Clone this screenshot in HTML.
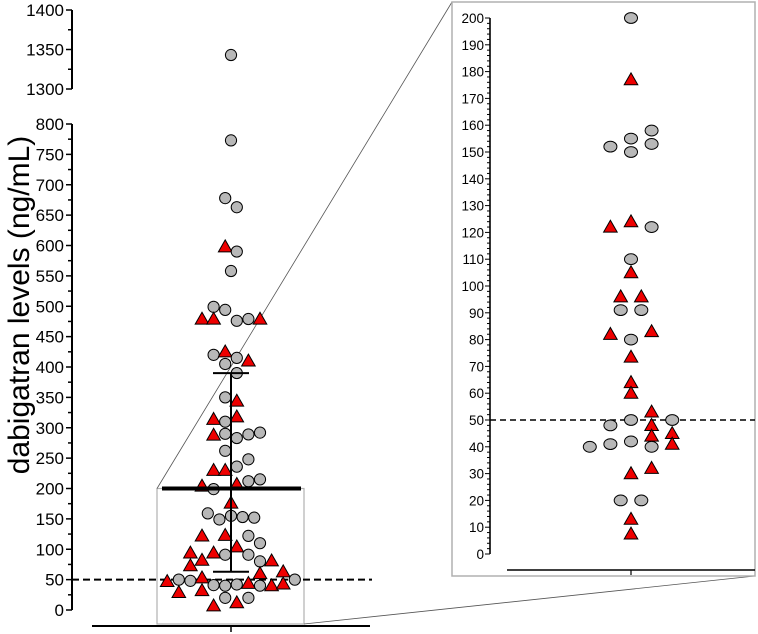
<!DOCTYPE html>
<html><head><meta charset="utf-8"><style>
html,body{margin:0;padding:0;background:#fff}
svg{display:block;font-family:"Liberation Sans",Arial,sans-serif}
</style></head><body>
<svg id="chart" width="758" height="634" viewBox="0 0 758 634">
<g id="guides"></g>
<g id="left"></g>
<g id="right"></g>
<text x="0" y="0" transform="translate(29,305) rotate(-90)" text-anchor="middle" font-size="30" fill="#000">dabigatran levels (ng/mL)</text>
</svg>
<script>
// Main panel data
const mainValues = [1343,773,678,663,598,590,558,
 499,494,479,479,476,479,479,
 420,425,415,410,405,390,350,344,314,318,310,
 288,290,283,289,292,262,248,236,230,230,212,215,204,199,207,176,
 159,149,155,153,152,122,123,122,110,104,94,94,91,91,82,80,81,73,60,63,
 47,50,48,53,50,41,40,42,44,40,40,43,29,32,20,20,7,12];
const mainShapes = ("c c c c t c c " +
 "c c t t c c t " +
 "c t c t c c c t t t c " +
 "t c c c c c c c t t c c t c t t " +
 "c c c c c t t c c t t t c c t c t t t t " +
 "t c c t c c c c t c t t t t c c t t").trim().split(" ");
const mainSlots = [0,0,-0.5,0.5,-0.5,0.5,0,
 -1.5,-0.5,-2.5,-1.5,0.5,1.5,2.5,
 -1.5,-0.5,0.5,1.5,-0.5,0.5,-0.5,0.5,-1.5,0.5,-0.5,
 -1.5,-0.5,0.5,1.5,2.5,-0.5,1.5,0.5,-1.5,-0.5,1.5,2.5,-2.5,-1.5,0.5,0,
 -2,-1,0,1,2,-2.5,-0.5,1.5,2.5,0.5,-3.5,-1.5,-0.5,1.5,-2.5,2.5,3.5,-3.5,2.5,4.5,
 -5.5,-4.5,-3.5,-2.5,5.5,-1.5,-0.5,0.5,1.5,2.5,3.5,4.5,-4.5,-2.5,-0.5,1.5,-1.5,0.5];
const mainStats = [200, 63, 390]; // central line, lower, upper whisker
const lowerTicks = [0,50,100,150,200,250,300,350,400,450,500,550,600,650,700,750,800];
const upperTicks = [1300,1350,1400];
// Zoom panel data
const zoomValues = [200,177,158,155,153,152,150,122,124,122,110,105,96,96,91,91,82,83,80,73.5,64,60,
 53,50,50,48,48,45,44,41,42,40,40,41,32,30,20,20,13,7.5];
const zoomShapes = ("c t c c c c c t t c c t t t c c t t c t t t " +
 "t c c c t t t c c c c t t t c c t t").trim().split(" ");
const zoomSlots = [0,0,2,0,2,-2,0,-2,0,2,0,0,-1,1,-1,1,-2,2,0,0,0,0,
 2,0,4,-2,2,4,2,-2,0,-4,2,4,2,0,-1,1,0,0];
const zoomTicks = [0,10,20,30,40,50,60,70,80,90,100,110,120,130,140,150,160,170,180,190,200];
const threshold = 50;

const NS="http://www.w3.org/2000/svg";
function mk(parent,tag,attrs){const e=document.createElementNS(NS,tag);for(const k in attrs)e.setAttribute(k,attrs[k]);parent.appendChild(e);return e;}
function shapeAt(arr,i){return arr[i]||'c';}

const AX=72, CX=231, SLOT=11.6;
function yMain(v){ if(v<=800) return 610-(v)*0.6075; return 89-(v-1300)*0.79; }
function xMain(s){ return CX+s*SLOT; }
const L=document.getElementById('left');
const G=document.getElementById('guides');
const R=document.getElementById('right');

let gb=mk(G,'rect',{x:157,y:yMain(200),width:147,height:624-yMain(200),fill:'none',stroke:'#b0b0b0','stroke-width':1.2});


let gl1=mk(G,'line',{x1:157,y1:yMain(200),x2:452,y2:2,stroke:'#555','stroke-width':0.8});


let gl2=mk(G,'line',{x1:304,y1:624,x2:755,y2:576,stroke:'#555','stroke-width':0.8});



let ya=mk(L,'path',{d:`M${AX},${yMain(1400)}V${yMain(1300)}M${AX},${yMain(800)}V${yMain(0)}`,stroke:'#000','stroke-width':2,fill:'none'});


for(let v=0;v<=800;v+=25){const major=v%50===0;mk(L,'line',{x1:AX-(major?6:4),x2:AX,y1:yMain(v),y2:yMain(v),stroke:'#000','stroke-width':1.5});}
for(let v=1300;v<=1400;v+=25){const major=v%50===0;mk(L,'line',{x1:AX-(major?6:4),x2:AX,y1:yMain(v),y2:yMain(v),stroke:'#000','stroke-width':1.5});}
lowerTicks.concat(upperTicks).forEach(v=>{const t=mk(L,'text',{x:AX-8,y:yMain(v)+6,'text-anchor':'end','font-size':17,fill:'#000'});t.textContent=v;

});
let xa=mk(L,'line',{x1:92,x2:370,y1:626,y2:626,stroke:'#000','stroke-width':2});


mk(L,'line',{x1:CX,x2:CX,y1:626,y2:632,stroke:'#000','stroke-width':1.5});
let th=mk(L,'line',{x1:AX,x2:372,y1:yMain(threshold),y2:yMain(threshold),stroke:'#000','stroke-width':2,'stroke-dasharray':'7,4'});



function drawMarker(parent,shape,x,y,rx,ry){
  if(shape==='t'){const s=6.8;return mk(parent,'path',{d:`M${x},${y-s}L${x+s},${y+s*0.75}L${x-s},${y+s*0.75}Z`,fill:'#ee0000',stroke:'#000','stroke-width':1});}
  return mk(parent,'ellipse',{cx:x,cy:y,rx:rx,ry:ry,fill:'#b8b8b8',stroke:'#000','stroke-width':1});
}
mainValues.forEach((v,i)=>{const m=drawMarker(L,shapeAt(mainShapes,i),xMain(mainSlots[i]||0),yMain(v),5.6,5.6);

});
let eb=mk(L,'path',{d:`M${CX},${yMain(mainStats[2])}V${yMain(mainStats[1])}M${CX-18},${yMain(mainStats[2])}H${CX+18}M${CX-18},${yMain(mainStats[1])}H${CX+18}`,stroke:'#000','stroke-width':2,fill:'none'});


let ml=mk(L,'line',{x1:162,x2:301,y1:yMain(mainStats[0]),y2:yMain(mainStats[0]),stroke:'#000','stroke-width':4});



let pb=mk(R,'rect',{x:452,y:2,width:303,height:574,fill:'#fff',stroke:'#b0b0b0','stroke-width':1.5});


const ZAX=490, ZCX=631, ZSLOT=10.3;
function yZ(v){return 554-v*2.68;}
function xZ(s){return ZCX+s*ZSLOT;}
let zya=mk(R,'line',{x1:ZAX,x2:ZAX,y1:yZ(200),y2:yZ(0),stroke:'#000','stroke-width':1.6});


for(let v=0;v<=200;v+=2){const major=v%10===0;mk(R,'line',{x1:ZAX-(major?5:3),x2:ZAX,y1:yZ(v),y2:yZ(v),stroke:'#000','stroke-width':1});}
zoomTicks.forEach(v=>{const t=mk(R,'text',{x:ZAX-6,y:yZ(v)+5,'text-anchor':'end','font-size':13.5,fill:'#000'});t.textContent=v;

});
let zxa=mk(R,'line',{x1:507,x2:755,y1:570,y2:570,stroke:'#000','stroke-width':1.6});


mk(R,'line',{x1:ZCX,x2:ZCX,y1:570,y2:575,stroke:'#000','stroke-width':1.2});
let zth=mk(R,'line',{x1:ZAX,x2:755,y1:yZ(threshold),y2:yZ(threshold),stroke:'#000','stroke-width':1.5,'stroke-dasharray':'6,4'});


zoomValues.forEach((v,i)=>{const m=drawMarker(R,shapeAt(zoomShapes,i),xZ(zoomSlots[i]||0),yZ(v),6.5,5.4);

});
</script>
</body></html>
